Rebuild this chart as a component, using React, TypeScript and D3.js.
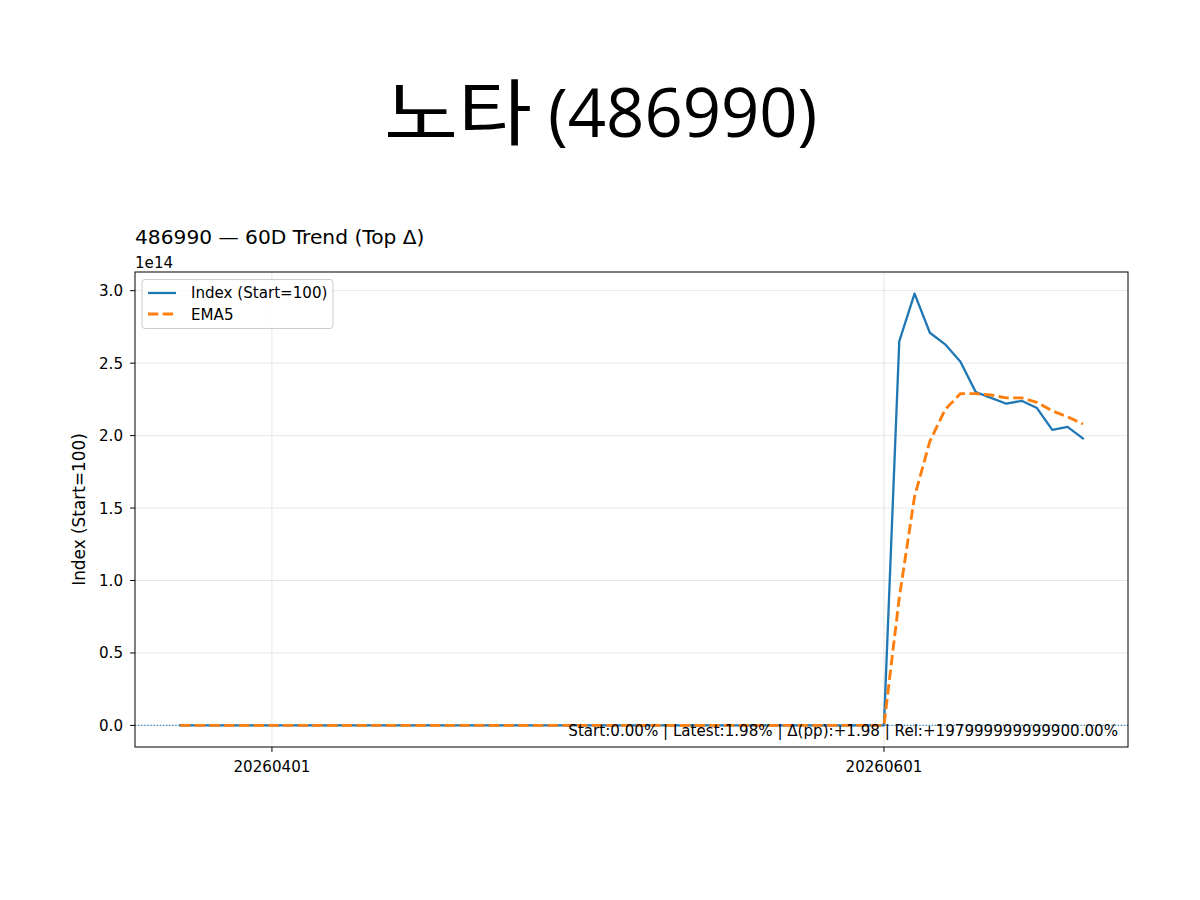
import * as d3 from 'd3';

// trading days (yyyymmdd) shown on the x axis
const dates = [
  '20260324', '20260325', '20260326', '20260327', '20260330', '20260331',
  '20260401', '20260402', '20260403', '20260406', '20260407', '20260408', '20260409', '20260410',
  '20260413', '20260414', '20260415', '20260416', '20260417',
  '20260420', '20260421', '20260422', '20260423', '20260424',
  '20260427', '20260428', '20260429', '20260430',
  '20260504', '20260506', '20260507', '20260508',
  '20260511', '20260512', '20260513', '20260514', '20260515',
  '20260518', '20260519', '20260520', '20260521', '20260522',
  '20260526', '20260527', '20260528', '20260529',
  '20260601', '20260602', '20260604', '20260605',
  '20260608', '20260609', '20260610', '20260611', '20260612',
  '20260615', '20260616', '20260617', '20260618', '20260619',
];

const indexValues = [
  100, 100, 100, 100, 100, 100, 100, 100, 100, 100,
  100, 100, 100, 100, 100, 100, 100, 100, 100, 100,
  100, 100, 100, 100, 100, 100, 100, 100, 100, 100,
  100, 100, 100, 100, 100, 100, 100, 100, 100, 100,
  100, 100, 100, 100, 100, 100, 100,
  2.65e14, 2.98e14, 2.71e14, 2.63e14, 2.51e14, 2.30e14, 2.26e14,
  2.22e14, 2.24e14, 2.19e14, 2.04e14, 2.06e14, 1.98e14,
];

const emaValues = [
  100, 100, 100, 100, 100, 100, 100, 100, 100, 100,
  100, 100, 100, 100, 100, 100, 100, 100, 100, 100,
  100, 100, 100, 100, 100, 100, 100, 100, 100, 100,
  100, 100, 100, 100, 100, 100, 100, 100, 100, 100,
  100, 100, 100, 100, 100, 100, 100,
  0.88e14, 1.58e14, 1.96e14, 2.18e14, 2.29e14, 2.29e14, 2.28e14,
  2.26e14, 2.26e14, 2.23e14, 2.17e14, 2.13e14, 2.08e14,
];

const xTickDates = ['20260401', '20260601'];
const yTicks = [0, 0.5e14, 1e14, 1.5e14, 2e14, 2.5e14, 3e14];

const titleName = '노타';
const titleCode = '(486990)';
const subtitle = '486990 — 60D Trend (Top Δ)';
const annotation = 'Start:0.00% | Latest:1.98% | Δ(pp):+1.98 | Rel:+197999999999900.00%';

const width = 1200;
const height = 900;
const marginLeft = 135;
const marginRight = 72;
const marginTop = 272;
const marginBottom = 153;

const font = 'DejaVu Sans, sans-serif';
const small = 15.1;
const blue = '#1f77b4';
const orange = '#ff7f0e';

export default function App() {
  const n = dates.length;
  const pad = (n - 1) * 0.05;
  const x = d3.scaleLinear()
    .domain([-pad, n - 1 + pad])
    .range([marginLeft, width - marginRight]);

  const yMax = d3.max(indexValues)!;
  const yPad = yMax * 0.05;
  const y = d3.scaleLinear()
    .domain([-yPad, yMax + yPad])
    .range([height - marginBottom, marginTop]);

  const line = d3.line<number>()
    .x((_, i) => x(i))
    .y(d => y(d));

  const left = marginLeft;
  const right = width - marginRight;
  const top = marginTop;
  const bottom = height - marginBottom;

  return (
    <>
      <style>{'body{margin:0}'}</style>
      <svg width={width} height={height} viewBox={`0 0 ${width} ${height}`} style={{ display: 'block' }}>
        <rect width={width} height={height} fill="#fff" />

        {/* title */}
        <text x={384} y={139} fontSize={71.5} fontFamily="Noto Sans CJK KR, sans-serif"
          textLength={148} lengthAdjust="spacingAndGlyphs">{titleName}</text>
        <text x={548} y={137} fontSize={67} fontFamily="Open Sans, Noto Sans, sans-serif">{titleCode}</text>

        <text x={left} y={244} fontSize={20.2} fontFamily={font}>{subtitle}</text>
        <text x={left} y={268} fontSize={small} fontFamily={font}>1e14</text>

        {/* grid */}
        <g stroke="#b0b0b0" strokeOpacity={0.3} strokeWidth={1}>
          {yTicks.map(t => (
            <line key={t} x1={left} x2={right} y1={y(t)} y2={y(t)} />
          ))}
          {xTickDates.map(dt => (
            <line key={dt} x1={x(dates.indexOf(dt))} x2={x(dates.indexOf(dt))} y1={top} y2={bottom} />
          ))}
        </g>

        {/* baseline at 100 */}
        <line x1={left} x2={right} y1={y(100)} y2={y(100)} stroke={blue}
          strokeWidth={1.2} strokeDasharray="1.3,1.8" strokeOpacity={0.85} />

        <path d={line(indexValues)!} fill="none" stroke={blue} strokeWidth={2.3}
          strokeLinejoin="round" strokeLinecap="square" />
        <path d={line(emaValues)!} fill="none" stroke={orange} strokeWidth={2.9}
          strokeDasharray="10.3,4.4" strokeLinejoin="round" />

        <text x={right - 10} y={736} textAnchor="end" fontSize={small} fontFamily={font}>{annotation}</text>

        {/* frame */}
        <rect x={left} y={top} width={right - left} height={bottom - top} fill="none" stroke="#000" strokeWidth={1} />

        {/* axes */}
        <g fontFamily={font} fontSize={small}>
          {yTicks.map(t => (
            <g key={t}>
              <line x1={left - 4.9} x2={left} y1={y(t)} y2={y(t)} stroke="#000" strokeWidth={1} />
              <text x={left - 12} y={y(t) + 5.5} textAnchor="end">{(t / 1e14).toFixed(1)}</text>
            </g>
          ))}
          {xTickDates.map(dt => (
            <g key={dt}>
              <line x1={x(dates.indexOf(dt))} x2={x(dates.indexOf(dt))} y1={bottom} y2={bottom + 4.9} stroke="#000" strokeWidth={1} />
              <text x={x(dates.indexOf(dt))} y={bottom + 25} textAnchor="middle">{dt}</text>
            </g>
          ))}
          <text transform={`translate(85,${(top + bottom) / 2}) rotate(-90)`} textAnchor="middle"
            fontSize={16.9}>Index (Start=100)</text>
        </g>

        {/* legend */}
        <g fontFamily={font} fontSize={small}>
          <rect x={left + 7} y={top + 7.5} width={191} height={49} rx={3}
            fill="#fff" fillOpacity={0.8} stroke="#cccccc" strokeWidth={1} />
          <line x1={left + 13} x2={left + 41} y1={top + 21} y2={top + 21} stroke={blue} strokeWidth={2.3} />
          <text x={left + 56} y={top + 26}>Index (Start=100)</text>
          <line x1={left + 13} x2={left + 41} y1={top + 42} y2={top + 42} stroke={orange}
            strokeWidth={2.9} strokeDasharray="10.3,4.4" />
          <text x={left + 56} y={top + 47.5}>EMA5</text>
        </g>
      </svg>
    </>
  );
}
